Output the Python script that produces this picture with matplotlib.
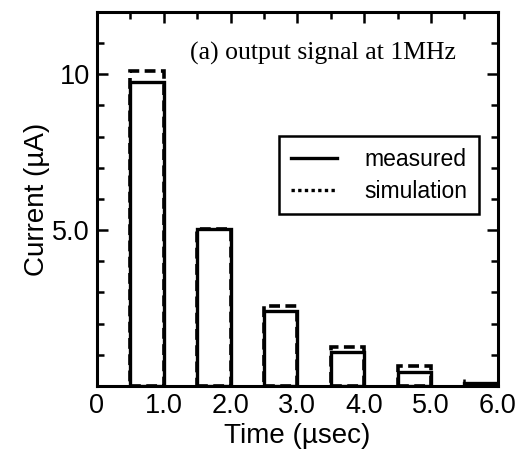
import numpy as np
import matplotlib
matplotlib.use('Agg')
import matplotlib.pyplot as plt
from matplotlib.lines import Line2D

plt.rcParams['font.family'] = ['Liberation Sans', 'DejaVu Sans']

# pulse start times (usec) and heights (uA)
t_start = [0.5, 1.5, 2.5, 3.5, 4.5, 5.5]
measured = [9.75, 5.05, 2.4, 1.1, 0.45, 0.1]
simulation = [10.1, 5.05, 2.55, 1.25, 0.65, 0.0]
pulse_w = 0.5

x_ticks = [0, 1, 2, 3, 4, 5, 6]
x_labels = ['0', '1.0', '2.0', '3.0', '4.0', '5.0', '6.0']
y_ticks = [5, 10]
y_labels = ['5.0', '10']

fig = plt.figure(figsize=(5.18, 4.61), dpi=100)
ax = fig.add_axes([0.187, 0.163, 0.774, 0.811])

ax.bar(t_start, simulation, width=pulse_w, align='edge', fill=False,
       edgecolor='k', linewidth=2.6, linestyle=(0, (3, 1.5)))
ax.bar(t_start, measured, width=pulse_w, align='edge', fill=False,
       edgecolor='k', linewidth=2.4)

ax.set_xlim(0, 6)
ax.set_ylim(0, 12)
ax.set_xticks(x_ticks)
ax.set_xticklabels(x_labels, fontsize=19.5)
ax.set_xticks(np.arange(0.5, 6, 1.0), minor=True)
ax.set_yticks(y_ticks)
ax.set_yticklabels(y_labels, fontsize=19.5)
ax.set_yticks(np.arange(1, 12, 1), minor=True)
ax.tick_params(which='both', direction='in', top=True, right=True, width=1.8)
ax.tick_params(which='major', length=8, pad=5)
ax.tick_params(which='minor', length=5)
for s in ax.spines.values():
    s.set_linewidth(2.2)

ax.set_xlabel('Time (\u00b5sec)', fontsize=20, labelpad=3)
ax.set_ylabel('Current (\u00b5A)', fontsize=20, labelpad=2)

ax.text(0.565, 0.89, '(a) output signal at 1MHz', transform=ax.transAxes,
        ha='center', va='center', fontsize=18.5, family='Liberation Serif')

handles = [Line2D([], [], color='k', lw=2.4),
           Line2D([], [], color='k', lw=2.4, linestyle=(0, (1.0, 1.0)))]
leg = ax.legend(handles, ['measured', 'simulation'], loc='upper right',
                bbox_to_anchor=(0.952, 0.668), fontsize=16.5, fancybox=False,
                edgecolor='k', framealpha=1, handlelength=2.0,
                borderpad=0.5, labelspacing=0.4, handletextpad=1.2,
                borderaxespad=0)
leg.get_frame().set_linewidth(1.8)

fig.savefig('out.png', dpi=100)
